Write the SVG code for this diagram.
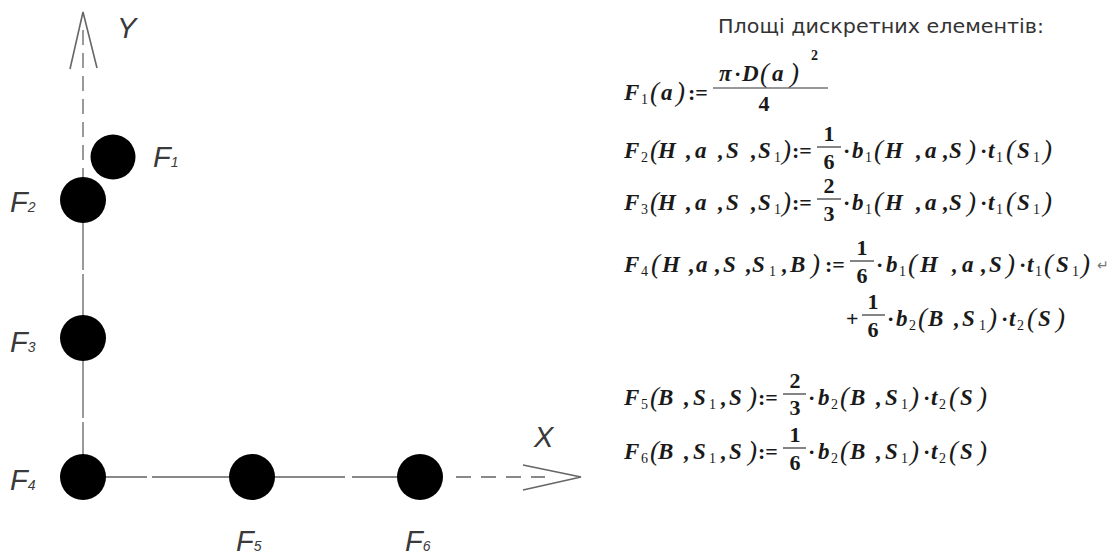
<svg xmlns="http://www.w3.org/2000/svg" width="1115" height="556" viewBox="0 0 1115 556">
<style>
.ax{stroke:#9a9a9a;stroke-width:2;fill:none}
.axd{stroke:#9a9a9a;stroke-width:2;fill:none;stroke-dasharray:15 8}
.arr{stroke:#666;stroke-width:1.6;fill:none}
.dot{fill:#000}
.lbl{font-family:"Liberation Sans",sans-serif;font-style:italic;font-size:29px;fill:#3a3a3a}
.ls{font-size:14px}
.v{font-family:"Liberation Serif",serif;font-weight:bold;font-style:italic;font-size:23px;fill:#1a1a1a}
.p{font-family:"Liberation Serif",serif;font-style:italic;font-size:27px;fill:#1a1a1a}
.s{font-family:"Liberation Serif",serif;font-size:14px;fill:#1a1a1a}
.n{font-family:"Liberation Serif",serif;font-weight:bold;font-size:22px;fill:#1a1a1a}
.o{font-family:"Liberation Serif",serif;font-weight:bold;font-size:22px;fill:#1a1a1a}
.bar{stroke:#333;stroke-width:1.2}
.t{font-family:"DejaVu Sans",Verdana,sans-serif;font-size:19px;fill:#333}
</style>
<g id="connectors">
  <line class="axd" x1="83" y1="30" x2="83" y2="178"/>
  <polyline class="arr" points="70,69 83,12 97,68"/>
  <line class="ax" x1="83" y1="222" x2="83" y2="270"/>
  <line class="ax" x1="83" y1="274" x2="83" y2="418"/>
  <line class="ax" x1="83" y1="422" x2="83" y2="477"/>
  <line class="ax" x1="83" y1="477" x2="147" y2="477" style="stroke:#888"/>
  <line class="ax" x1="152" y1="477" x2="345" y2="477" style="stroke:#888"/>
  <line class="ax" x1="352" y1="477" x2="420" y2="477" style="stroke:#888"/>
  <line class="axd" x1="456" y1="477" x2="545" y2="477" style="stroke:#888;stroke-dasharray:15 10"/>
  <polyline class="arr" points="523,465 581,477 523,490"/>
</g>
<g id="axis-y-label"><text class="lbl" x="117" y="38">Y</text></g>
<g id="axis-x-label"><text class="lbl" x="534" y="447">X</text></g>
<g id="F1"><circle class="dot" cx="113" cy="157" r="22.5"/><text class="lbl" x="153" y="167">F<tspan class="ls">1</tspan></text></g>
<g id="F2"><circle class="dot" cx="83" cy="200" r="23"/><text class="lbl" x="10" y="212">F<tspan class="ls">2</tspan></text></g>
<g id="F3"><circle class="dot" cx="83" cy="338" r="23"/><text class="lbl" x="10" y="352">F<tspan class="ls">3</tspan></text></g>
<g id="F4"><circle class="dot" cx="83" cy="477" r="23"/><text class="lbl" x="10" y="490">F<tspan class="ls">4</tspan></text></g>
<g id="F5"><circle class="dot" cx="252" cy="477" r="23"/><text class="lbl" x="236" y="551">F<tspan class="ls">5</tspan></text></g>
<g id="F6"><circle class="dot" cx="420" cy="477" r="23"/><text class="lbl" x="405" y="551">F<tspan class="ls">6</tspan></text></g>

<g id="title"><text class="t" x="718" y="33" textLength="326" lengthAdjust="spacingAndGlyphs">Площі дискретних елементів:</text></g>

<g id="formula-F1">
  <text><tspan class="v" x="624" y="100">F</tspan><tspan class="s" x="641" y="104">1</tspan><tspan class="p" x="650" y="101">(</tspan><tspan class="v" x="661" y="100">a</tspan><tspan class="p" x="676" y="101">)</tspan><tspan class="o" x="688" y="100">:=</tspan></text>
  <line class="bar" x1="713" y1="88" x2="828" y2="88"/>
  <text><tspan class="v" x="719" y="81">π</tspan><tspan class="o" x="734" y="81">·</tspan><tspan class="v" x="742" y="81">D</tspan><tspan class="p" x="760" y="82">(</tspan><tspan class="v" x="772" y="81">a</tspan><tspan class="p" x="790" y="82">)</tspan><tspan class="s" x="811" y="60" style="font-weight:bold">2</tspan></text>
  <text class="n" x="764" y="111" text-anchor="middle">4</text>
</g>

<g id="formula-F2">
  <text><tspan class="v" x="624" y="158">F</tspan><tspan class="s" x="641" y="162">2</tspan><tspan class="p" x="650" y="159">(</tspan><tspan class="v" x="658" y="158">H</tspan><tspan class="v" x="686" y="158">,</tspan><tspan class="v" x="695" y="158">a</tspan><tspan class="v" x="718" y="158">,</tspan><tspan class="v" x="726" y="158">S</tspan><tspan class="v" x="751" y="158">,</tspan><tspan class="v" x="758" y="158">S</tspan><tspan class="s" x="774" y="162">1</tspan><tspan class="p" x="782" y="159">)</tspan><tspan class="o" x="792" y="158">:=</tspan></text>
  <line class="bar" x1="817" y1="147" x2="841" y2="147"/>
  <text class="n" x="829" y="141" text-anchor="middle">1</text>
  <text class="n" x="829" y="169" text-anchor="middle">6</text>
  <text><tspan class="o" x="843" y="158">·</tspan><tspan class="v" x="852" y="158">b</tspan><tspan class="s" x="865" y="162">1</tspan><tspan class="p" x="874" y="159">(</tspan><tspan class="v" x="885" y="158">H</tspan><tspan class="v" x="916" y="158">,</tspan><tspan class="v" x="925" y="158">a</tspan><tspan class="v" x="943" y="158">,</tspan><tspan class="v" x="949" y="158">S</tspan><tspan class="p" x="967" y="159">)</tspan><tspan class="o" x="980" y="158">·</tspan><tspan class="v" x="988" y="158">t</tspan><tspan class="s" x="996" y="162">1</tspan><tspan class="p" x="1006" y="159">(</tspan><tspan class="v" x="1017" y="158">S</tspan><tspan class="s" x="1033" y="162">1</tspan><tspan class="p" x="1043" y="159">)</tspan></text>
</g>

<g id="formula-F3">
  <text><tspan class="v" x="624" y="210">F</tspan><tspan class="s" x="641" y="214">3</tspan><tspan class="p" x="650" y="211">(</tspan><tspan class="v" x="658" y="210">H</tspan><tspan class="v" x="686" y="210">,</tspan><tspan class="v" x="695" y="210">a</tspan><tspan class="v" x="718" y="210">,</tspan><tspan class="v" x="726" y="210">S</tspan><tspan class="v" x="751" y="210">,</tspan><tspan class="v" x="758" y="210">S</tspan><tspan class="s" x="774" y="214">1</tspan><tspan class="p" x="782" y="211">)</tspan><tspan class="o" x="792" y="210">:=</tspan></text>
  <line class="bar" x1="817" y1="199" x2="841" y2="199"/>
  <text class="n" x="829" y="193" text-anchor="middle">2</text>
  <text class="n" x="829" y="221" text-anchor="middle">3</text>
  <text><tspan class="o" x="843" y="210">·</tspan><tspan class="v" x="852" y="210">b</tspan><tspan class="s" x="865" y="214">1</tspan><tspan class="p" x="874" y="211">(</tspan><tspan class="v" x="885" y="210">H</tspan><tspan class="v" x="916" y="210">,</tspan><tspan class="v" x="925" y="210">a</tspan><tspan class="v" x="943" y="210">,</tspan><tspan class="v" x="949" y="210">S</tspan><tspan class="p" x="967" y="211">)</tspan><tspan class="o" x="980" y="210">·</tspan><tspan class="v" x="988" y="210">t</tspan><tspan class="s" x="996" y="214">1</tspan><tspan class="p" x="1006" y="211">(</tspan><tspan class="v" x="1017" y="210">S</tspan><tspan class="s" x="1033" y="214">1</tspan><tspan class="p" x="1043" y="211">)</tspan></text>
</g>

<g id="formula-F4">
  <text><tspan class="v" x="624" y="272">F</tspan><tspan class="s" x="641" y="276">4</tspan><tspan class="p" x="651" y="273">(</tspan><tspan class="v" x="662" y="272">H</tspan><tspan class="v" x="689" y="272">,</tspan><tspan class="v" x="696" y="272">a</tspan><tspan class="v" x="715" y="272">,</tspan><tspan class="v" x="723" y="272">S</tspan><tspan class="v" x="746" y="272">,</tspan><tspan class="v" x="752" y="272">S</tspan><tspan class="s" x="769" y="276">1</tspan><tspan class="v" x="782" y="272">,</tspan><tspan class="v" x="790" y="272">B</tspan><tspan class="p" x="811" y="273">)</tspan><tspan class="o" x="825" y="272">:=</tspan></text>
  <line class="bar" x1="850" y1="261" x2="874" y2="261"/>
  <text class="n" x="862" y="255" text-anchor="middle">1</text>
  <text class="n" x="862" y="283" text-anchor="middle">6</text>
  <text><tspan class="o" x="876" y="272">·</tspan><tspan class="v" x="886" y="272">b</tspan><tspan class="s" x="899" y="276">1</tspan><tspan class="p" x="908" y="273">(</tspan><tspan class="v" x="920" y="272">H</tspan><tspan class="v" x="952" y="272">,</tspan><tspan class="v" x="962" y="272">a</tspan><tspan class="v" x="981" y="272">,</tspan><tspan class="v" x="989" y="272">S</tspan><tspan class="p" x="1006" y="273">)</tspan><tspan class="o" x="1019" y="272">·</tspan><tspan class="v" x="1027" y="272">t</tspan><tspan class="s" x="1035" y="276">1</tspan><tspan class="p" x="1044" y="273">(</tspan><tspan class="v" x="1056" y="272">S</tspan><tspan class="s" x="1072" y="276">1</tspan><tspan class="p" x="1081" y="273">)</tspan><tspan class="s" x="1097" y="270" style="fill:#777">↵</tspan></text>
</g>

<g id="formula-F4-cont">
  <text class="o" x="846" y="326">+</text>
  <line class="bar" x1="862" y1="315" x2="885" y2="315"/>
  <text class="n" x="873" y="309" text-anchor="middle">1</text>
  <text class="n" x="873" y="337" text-anchor="middle">6</text>
  <text><tspan class="o" x="887" y="326">·</tspan><tspan class="v" x="896" y="326">b</tspan><tspan class="s" x="909" y="330">2</tspan><tspan class="p" x="918" y="327">(</tspan><tspan class="v" x="928" y="326">B</tspan><tspan class="v" x="954" y="326">,</tspan><tspan class="v" x="962" y="326">S</tspan><tspan class="s" x="979" y="330">1</tspan><tspan class="p" x="988" y="327">)</tspan><tspan class="o" x="1001" y="326">·</tspan><tspan class="v" x="1009" y="326">t</tspan><tspan class="s" x="1017" y="330">2</tspan><tspan class="p" x="1027" y="327">(</tspan><tspan class="v" x="1038" y="326">S</tspan><tspan class="p" x="1056" y="327">)</tspan></text>
</g>

<g id="formula-F5">
  <text><tspan class="v" x="624" y="405">F</tspan><tspan class="s" x="641" y="409">5</tspan><tspan class="p" x="650" y="406">(</tspan><tspan class="v" x="658" y="405">B</tspan><tspan class="v" x="684" y="405">,</tspan><tspan class="v" x="693" y="405">S</tspan><tspan class="s" x="709" y="409">1</tspan><tspan class="v" x="721" y="405">,</tspan><tspan class="v" x="729" y="405">S</tspan><tspan class="p" x="748" y="406">)</tspan><tspan class="o" x="758" y="405">:=</tspan></text>
  <line class="bar" x1="783" y1="394" x2="806" y2="394"/>
  <text class="n" x="795" y="388" text-anchor="middle">2</text>
  <text class="n" x="795" y="415" text-anchor="middle">3</text>
  <text><tspan class="o" x="808" y="405">·</tspan><tspan class="v" x="818" y="405">b</tspan><tspan class="s" x="831" y="409">2</tspan><tspan class="p" x="840" y="406">(</tspan><tspan class="v" x="850" y="405">B</tspan><tspan class="v" x="876" y="405">,</tspan><tspan class="v" x="885" y="405">S</tspan><tspan class="s" x="901" y="409">1</tspan><tspan class="p" x="910" y="406">)</tspan><tspan class="o" x="923" y="405">·</tspan><tspan class="v" x="931" y="405">t</tspan><tspan class="s" x="939" y="409">2</tspan><tspan class="p" x="949" y="406">(</tspan><tspan class="v" x="960" y="405">S</tspan><tspan class="p" x="978" y="406">)</tspan></text>
</g>

<g id="formula-F6">
  <text><tspan class="v" x="624" y="459">F</tspan><tspan class="s" x="641" y="463">6</tspan><tspan class="p" x="650" y="460">(</tspan><tspan class="v" x="658" y="459">B</tspan><tspan class="v" x="684" y="459">,</tspan><tspan class="v" x="693" y="459">S</tspan><tspan class="s" x="709" y="463">1</tspan><tspan class="v" x="721" y="459">,</tspan><tspan class="v" x="729" y="459">S</tspan><tspan class="p" x="748" y="460">)</tspan><tspan class="o" x="758" y="459">:=</tspan></text>
  <line class="bar" x1="783" y1="448" x2="806" y2="448"/>
  <text class="n" x="795" y="442" text-anchor="middle">1</text>
  <text class="n" x="795" y="470" text-anchor="middle">6</text>
  <text><tspan class="o" x="808" y="459">·</tspan><tspan class="v" x="818" y="459">b</tspan><tspan class="s" x="831" y="463">2</tspan><tspan class="p" x="840" y="460">(</tspan><tspan class="v" x="850" y="459">B</tspan><tspan class="v" x="876" y="459">,</tspan><tspan class="v" x="885" y="459">S</tspan><tspan class="s" x="901" y="463">1</tspan><tspan class="p" x="910" y="460">)</tspan><tspan class="o" x="923" y="459">·</tspan><tspan class="v" x="931" y="459">t</tspan><tspan class="s" x="939" y="463">2</tspan><tspan class="p" x="949" y="460">(</tspan><tspan class="v" x="960" y="459">S</tspan><tspan class="p" x="978" y="460">)</tspan></text>
</g>
</svg>
